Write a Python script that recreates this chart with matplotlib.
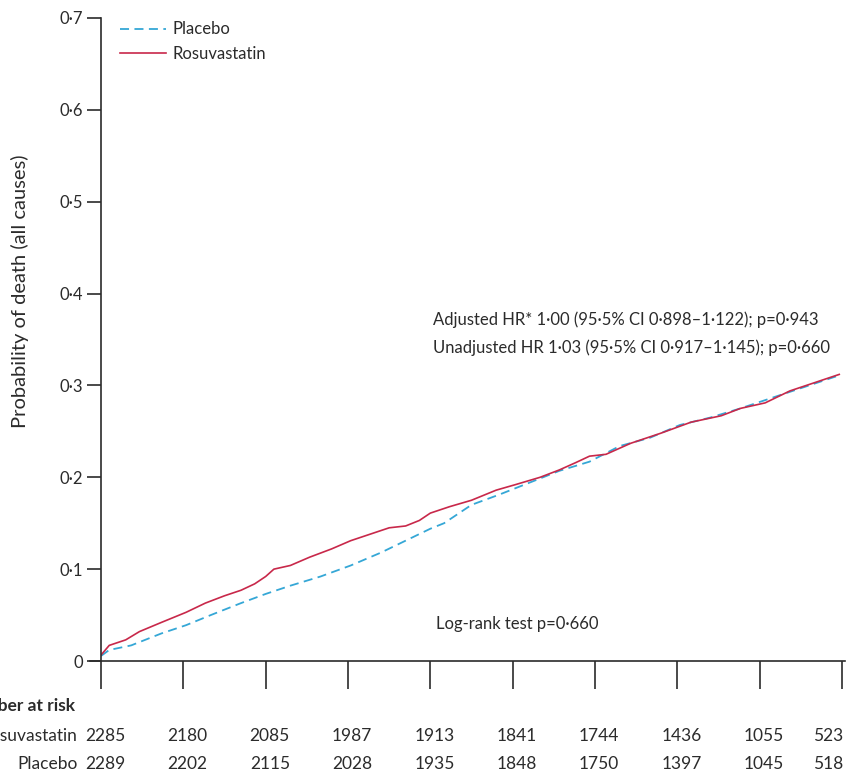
import matplotlib
matplotlib.use("Agg")
import matplotlib.pyplot as plt
import matplotlib.transforms as mtransforms

plt.rcParams['font.family'] = ['Lato', 'DejaVu Sans']

# ---- data (x in months) ----
rosu_x = [0, 0.3, 0.9, 1.4, 2.2, 3.1, 3.8, 4.5, 5.1, 5.6, 6.0, 6.3, 6.9, 7.6, 8.4, 9.1,
          9.9, 10.5, 11.1, 11.6, 12.0, 12.7, 13.5, 14.4, 15.1, 16.0, 16.7, 17.3, 17.8,
          18.4, 19.3, 20.4, 21.5, 22.6, 23.3, 24.2, 25.1, 26.0, 26.9]
rosu_y = [0.0065, 0.017, 0.023, 0.032, 0.042, 0.053, 0.063, 0.071, 0.077, 0.084, 0.092,
          0.100, 0.104, 0.113, 0.122, 0.131, 0.139, 0.145, 0.147, 0.153, 0.161, 0.168,
          0.175, 0.186, 0.192, 0.200, 0.208, 0.216, 0.223, 0.225, 0.237, 0.248, 0.260,
          0.267, 0.275, 0.281, 0.294, 0.303, 0.312]
plac_x = [0, 0.3, 1.1, 2.2, 3.1, 4.0, 5.1, 6.0, 6.9, 8.0, 9.1, 10.2, 11.1, 12.0, 12.5,
          13.5, 14.5, 15.6, 16.7, 17.8, 18.9, 20.0, 21.1, 22.2, 23.3, 24.4, 25.5, 26.9]
plac_y = [0.0055, 0.012, 0.017, 0.030, 0.039, 0.050, 0.063, 0.073, 0.082, 0.092, 0.104,
          0.118, 0.131, 0.144, 0.150, 0.170, 0.181, 0.194, 0.207, 0.217, 0.234, 0.243,
          0.257, 0.265, 0.275, 0.286, 0.297, 0.311]

risk_times = [0, 3, 6, 9, 12, 15, 18, 21, 24, 27]
risk_rosu = [2285, 2180, 2085, 1987, 1913, 1841, 1744, 1436, 1055, 523]
risk_plac = [2289, 2202, 2115, 2028, 1935, 1848, 1750, 1397, 1045, 518]
y_ticks = [0, 0.1, 0.2, 0.3, 0.4, 0.5, 0.6, 0.7]
y_labels = ['0', '0·1', '0·2', '0·3', '0·4', '0·5', '0·6', '0·7']

RED = '#c8284a'
BLUE = '#35a7d6'
DARK = '#2b2b2b'
FS = 12

fig = plt.figure(figsize=(8.5, 7.74), dpi=100)
ax = fig.add_axes([101/850, 113/774, 741/850, 643/774])

ax.plot(plac_x, plac_y, color=BLUE, lw=1.3, ls=(0, (5, 3)), label='Placebo')
ax.plot(rosu_x, rosu_y, color=RED, lw=1.2, label='Rosuvastatin')

ax.set_xlim(0, 27)
ax.set_ylim(0, 0.7)
ax.set_xticks(risk_times)
ax.set_xticklabels([])
ax.set_yticks(y_ticks)
ax.set_yticklabels(y_labels, fontsize=FS, color=DARK)
ax.tick_params(axis='y', length=10, width=1.2, color=DARK, pad=3)
ax.tick_params(axis='x', length=20, width=1.2, color=DARK)
for s in ['top', 'right']:
    ax.spines[s].set_visible(False)
for s in ['left', 'bottom']:
    ax.spines[s].set_color(DARK)
    ax.spines[s].set_linewidth(1.2)
ax.spines['bottom'].set_bounds(-0.4, 27.1)
ax.spines['left'].set_bounds(0, 0.7)

ax.set_ylabel('Probability of death (all causes)', fontsize=14.5, color=DARK)
ax.yaxis.set_label_coords(-72/741, 0.575)

leg = ax.legend(loc='upper left', bbox_to_anchor=(0.005, 1.018), frameon=False,
                fontsize=FS, handlelength=2.8, handletextpad=0.35, labelspacing=0.5)
for t in leg.get_texts():
    t.set_color(DARK)

ax.text(12.1, 0.371, 'Adjusted HR* 1·00 (95·5% CI 0·898–1·122); p=0·943',
        fontsize=FS, color=DARK, va='center', ha='left')
ax.text(12.1, 0.341, 'Unadjusted HR 1·03 (95·5% CI 0·917–1·145); p=0·660',
        fontsize=FS, color=DARK, va='center', ha='left')
ax.text(12.2, 0.040, 'Log-rank test p=0·660', fontsize=FS, color=DARK,
        va='center', ha='left')

RFS = 12.5
trans = mtransforms.blended_transform_factory(ax.transData, fig.transFigure)
ax.text(-0.95, 68/774, 'Number at risk', transform=trans, fontsize=RFS, color=DARK,
        ha='right', va='center', fontweight='bold', clip_on=False)
ax.text(-0.85, 38/774, 'Rosuvastatin', transform=trans, fontsize=RFS, color=DARK,
        ha='right', va='center', clip_on=False)
ax.text(-0.85, 10/774, 'Placebo', transform=trans, fontsize=RFS, color=DARK,
        ha='right', va='center', clip_on=False)
last = len(risk_times) - 1
for i, (t, r, p) in enumerate(zip(risk_times, risk_rosu, risk_plac)):
    ha = 'right' if i == last else 'center'
    xx = t + 0.05 if i == last else t + 0.15
    ax.text(xx, 38/774, str(r), transform=trans, fontsize=RFS, color=DARK,
            ha=ha, va='center', clip_on=False)
    ax.text(xx, 10/774, str(p), transform=trans, fontsize=RFS, color=DARK,
            ha=ha, va='center', clip_on=False)

fig.savefig('out.png', dpi=100)
